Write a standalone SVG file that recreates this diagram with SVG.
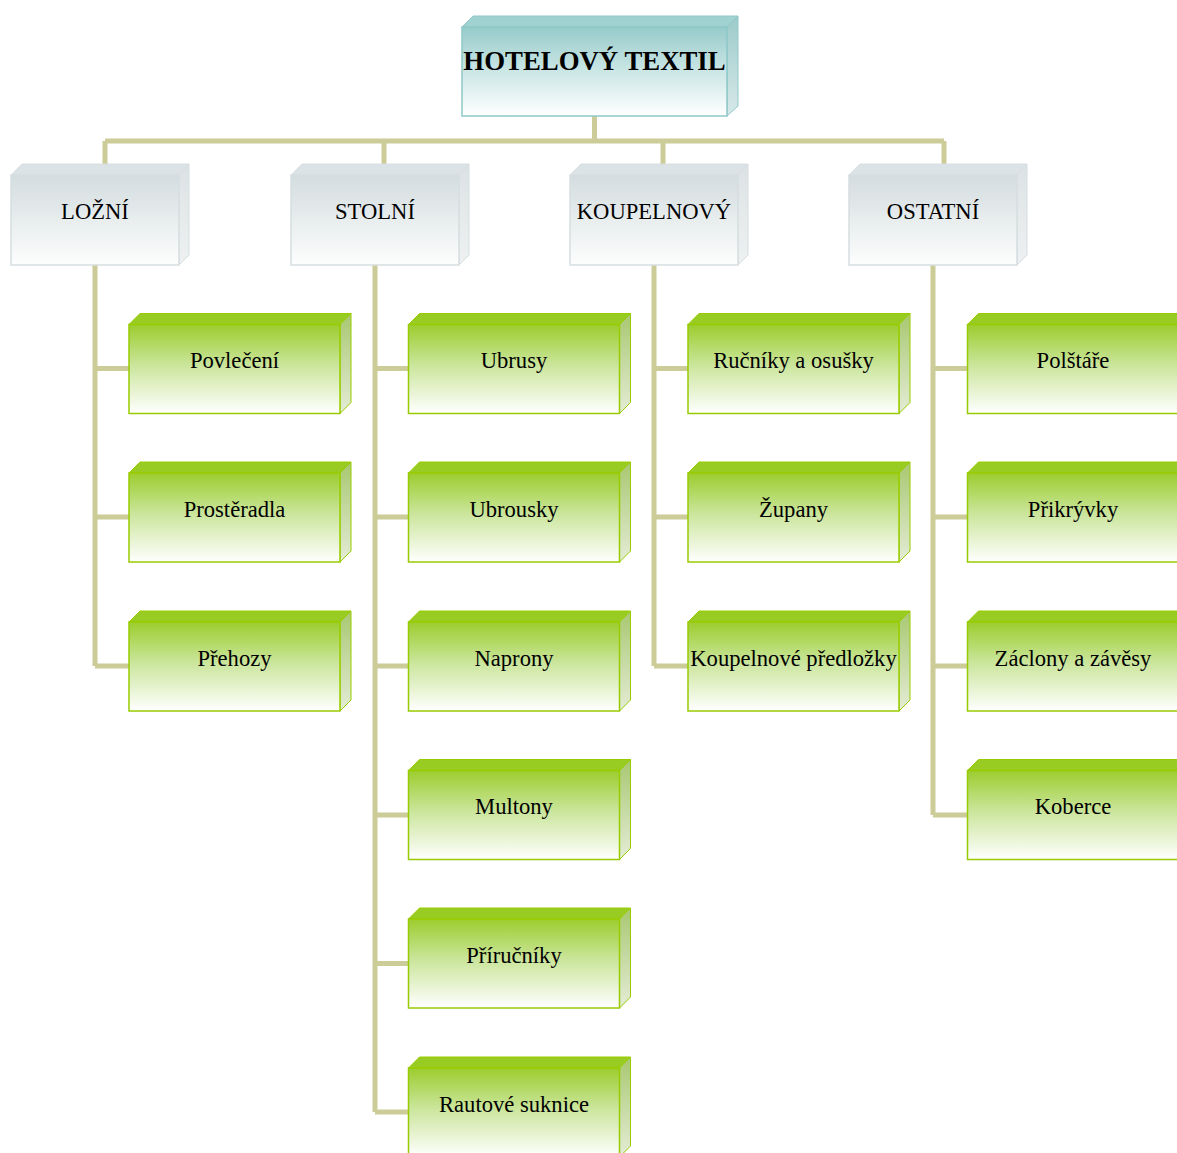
<svg xmlns="http://www.w3.org/2000/svg" xmlns:xlink="http://www.w3.org/1999/xlink" width="1177" height="1153" viewBox="0 0 1177 1153">
<defs>
<style>
.t{font-family:"Liberation Serif","Times New Roman",serif;fill:#000;text-anchor:middle}
.t1{font-size:22.6px}
.t0{font-size:26.8px;font-weight:bold}
.con{stroke:#cccc99;stroke-width:5;fill:none;stroke-linecap:butt}
</style>
<linearGradient id="gTop" x1="0" y1="0" x2="0" y2="1">
<stop offset="0" stop-color="#96cbca"/><stop offset="0.45" stop-color="#c6e4e3"/><stop offset="1" stop-color="#ffffff"/>
</linearGradient>
<linearGradient id="gGray" x1="0" y1="0" x2="0" y2="1">
<stop offset="0" stop-color="#d3dcdf"/><stop offset="0.5" stop-color="#e8edee"/><stop offset="1" stop-color="#fdfdfd"/>
</linearGradient>
<linearGradient id="gGreen" x1="0" y1="0" x2="0" y2="1">
<stop offset="0" stop-color="#9ccd2e"/><stop offset="0.45" stop-color="#cae59a"/><stop offset="1" stop-color="#ffffff"/>
</linearGradient>
<linearGradient id="sGreen" x1="0" y1="0" x2="0" y2="1">
<stop offset="0" stop-color="#a8c870"/><stop offset="1" stop-color="#e4ecd6"/>
</linearGradient>
<linearGradient id="sGray" x1="0" y1="0" x2="0" y2="1">
<stop offset="0" stop-color="#dce2e4"/><stop offset="1" stop-color="#eef1f1"/>
</linearGradient>
<linearGradient id="sTop" x1="0" y1="0" x2="0" y2="1">
<stop offset="0" stop-color="#9ccaca"/><stop offset="1" stop-color="#d8e9e9"/>
</linearGradient>
<g id="boxTop">
<polygon points="0,11 11,0 276,0 265,11" fill="#a0d2d1" stroke="#90c8c8" stroke-width="1"/>
<polygon points="265,11 276,0 276,90 265,100" fill="url(#sTop)" stroke="#90c8c8" stroke-width="1"/>
<rect x="0" y="11" width="265" height="89" fill="url(#gTop)" stroke="#8ec8c7" stroke-width="1.5"/>
</g>
<g id="boxGray">
<polygon points="0,11 11,0 178,0 168,11" fill="#dce3e6" stroke="#d6dee1" stroke-width="1"/>
<polygon points="168,11 178,0 178,91 168,101" fill="url(#sGray)" stroke="#d6dee1" stroke-width="1"/>
<rect x="0" y="11" width="168" height="90" fill="url(#gGray)" stroke="#d6dee1" stroke-width="1.5"/>
</g>
<g id="boxGreen">
<polygon points="0,11 11,0 222,0 211,11" fill="#99cc22" stroke="#99cc00" stroke-width="1"/>
<polygon points="211,11 222,0 222,89 211,100" fill="url(#sGreen)" stroke="#99cc00" stroke-width="1"/>
<rect x="0" y="11" width="211" height="89" fill="url(#gGreen)" stroke="#99cc00" stroke-width="1.5"/>
</g>
</defs>
<rect width="1177" height="1153" fill="#ffffff"/>
<g id="connectors">
<path class="con" d="M594.5,116 V141 M105,141 H944 M105,141 V165 M384,141 V165 M663,141 V165 M944,141 V165"/>
<path class="con" d="M95,265 V666 M95,368.5 H129 M95,517 H129 M95,666 H129"/>
<path class="con" d="M375,265 V1112 M375,368.5 H408 M375,517 H408 M375,666 H408 M375,815 H408 M375,963.5 H408 M375,1112 H408"/>
<path class="con" d="M654,265 V666 M654,368.5 H688 M654,517 H688 M654,666 H688"/>
<path class="con" d="M933,265 V815 M933,368.5 H967 M933,517 H967 M933,666 H967 M933,815 H967"/>
</g>
<g id="n-hotel"><use xlink:href="#boxTop" x="462" y="16"/><text class="t t0" x="594.5" y="70">HOTELOVÝ TEXTIL</text></g>
<g id="n-lozni"><use xlink:href="#boxGray" x="11" y="164"/><text class="t t1" x="95" y="219">LOŽNÍ</text></g>
<g id="n-stolni"><use xlink:href="#boxGray" x="291" y="164"/><text class="t t1" x="375" y="219">STOLNÍ</text></g>
<g id="n-koupelnovy"><use xlink:href="#boxGray" x="570" y="164"/><text class="t t1" x="654" y="219">KOUPELNOVÝ</text></g>
<g id="n-ostatni"><use xlink:href="#boxGray" x="849" y="164"/><text class="t t1" x="933" y="219">OSTATNÍ</text></g>
<g id="n-povleceni"><use xlink:href="#boxGreen" x="129" y="313.5"/><text class="t t1" x="234.5" y="368">Povlečení</text></g>
<g id="n-prosteradla"><use xlink:href="#boxGreen" x="129" y="462"/><text class="t t1" x="234.5" y="516.5">Prostěradla</text></g>
<g id="n-prehozy"><use xlink:href="#boxGreen" x="129" y="611"/><text class="t t1" x="234.5" y="665.5">Přehozy</text></g>
<g id="n-ubrusy"><use xlink:href="#boxGreen" x="408.5" y="313.5"/><text class="t t1" x="514" y="368">Ubrusy</text></g>
<g id="n-ubrousky"><use xlink:href="#boxGreen" x="408.5" y="462"/><text class="t t1" x="514" y="516.5">Ubrousky</text></g>
<g id="n-naprony"><use xlink:href="#boxGreen" x="408.5" y="611"/><text class="t t1" x="514" y="665.5">Naprony</text></g>
<g id="n-multony"><use xlink:href="#boxGreen" x="408.5" y="759.5"/><text class="t t1" x="514" y="814">Multony</text></g>
<g id="n-prirucniky"><use xlink:href="#boxGreen" x="408.5" y="908"/><text class="t t1" x="514" y="962.5">Příručníky</text></g>
<g id="n-rautove"><use xlink:href="#boxGreen" x="408.5" y="1057"/><text class="t t1" x="514" y="1111.5">Rautové suknice</text></g>
<g id="n-rucniky"><use xlink:href="#boxGreen" x="688" y="313.5"/><text class="t t1" x="793.5" y="368">Ručníky a osušky</text></g>
<g id="n-zupany"><use xlink:href="#boxGreen" x="688" y="462"/><text class="t t1" x="793.5" y="516.5">Župany</text></g>
<g id="n-predlozky"><use xlink:href="#boxGreen" x="688" y="611"/><text class="t t1" x="793.5" y="665.5">Koupelnové předložky</text></g>
<g id="n-polstare"><use xlink:href="#boxGreen" x="967.5" y="313.5"/><text class="t t1" x="1073" y="368">Polštáře</text></g>
<g id="n-prikryvky"><use xlink:href="#boxGreen" x="967.5" y="462"/><text class="t t1" x="1073" y="516.5">Přikrývky</text></g>
<g id="n-zaclony"><use xlink:href="#boxGreen" x="967.5" y="611"/><text class="t t1" x="1073" y="665.5">Záclony a závěsy</text></g>
<g id="n-koberce"><use xlink:href="#boxGreen" x="967.5" y="759.5"/><text class="t t1" x="1073" y="814">Koberce</text></g>
</svg>
